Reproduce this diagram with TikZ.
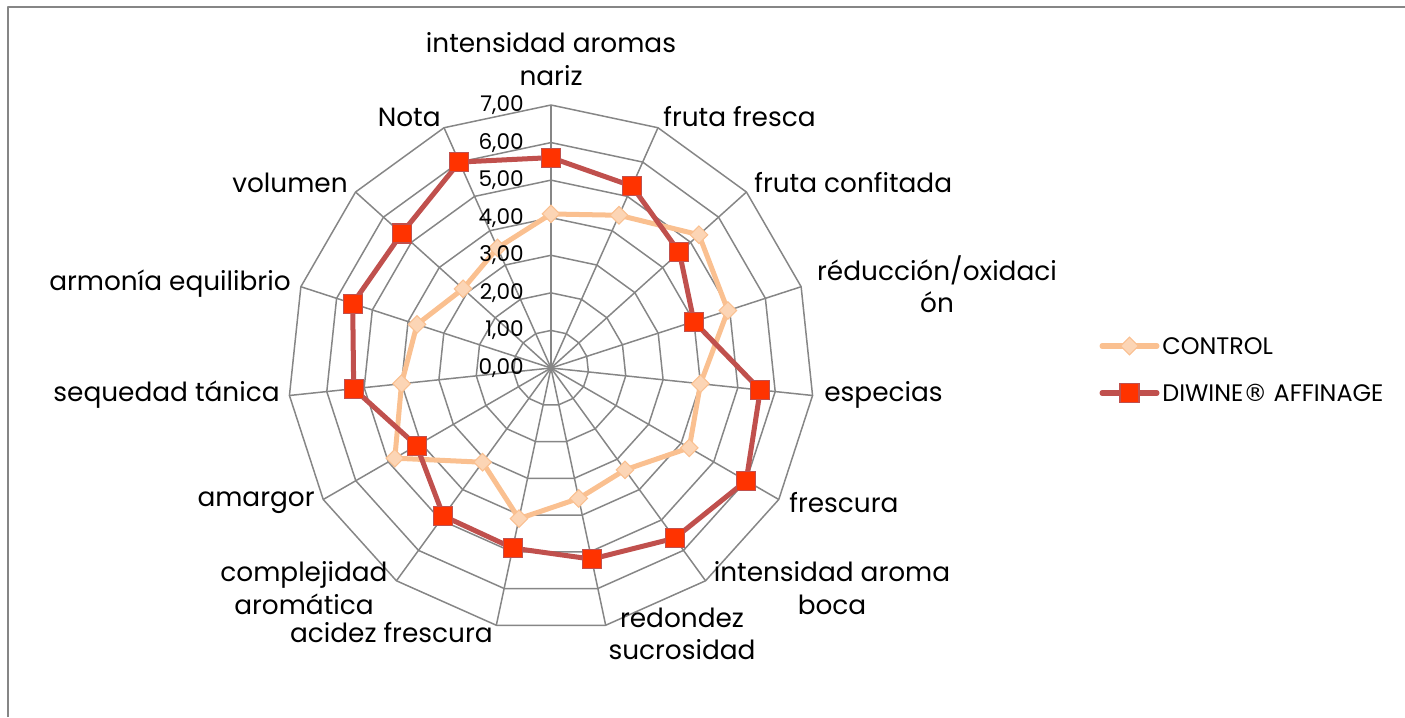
\documentclass[tikz,border=0pt]{standalone}
\usepackage{fontspec}
\setmainfont{Poppins}
\newfontfamily\symfont{DejaVu Sans}
\usetikzlibrary{shapes.geometric, positioning, calc}
\definecolor{gridgray}{RGB}{134,134,134}
\definecolor{ctrlline}{RGB}{250,192,144}
\definecolor{ctrlfill}{RGB}{252,213,181}
\definecolor{diwline}{RGB}{192,80,77}
\definecolor{diwfill}{RGB}{255,51,0}
\tikzset{
    gridline/.style={
        draw=gridgray, line width=0.85pt, line join=round
    },
    catlabel/.style={
        font=\fontsize{15}{18.5}\selectfont, align=center, inner sep=0pt
    },
    vallabel/.style={
        font=\fontsize{12.3}{14}\selectfont, anchor=east, inner sep=0pt
    },
    legtext/.style={
        font=\fontsize{13.6}{16}\selectfont, anchor=west, inner sep=0pt
    }
}

\begin{document}
\begin{tikzpicture}[
        x=0.02cm, y=0.02cm,
        % --- STYLE ---
        ctrlpath/.style={draw=ctrlline, line width=2.85pt, line join=round, line cap=round},
        diwpath/.style={draw=diwline, line width=2.85pt, line join=round, line cap=round},
        ctrlmark/.style={diamond, draw=ctrlline, fill=ctrlfill, line width=0.6pt, minimum size=0.36cm, inner sep=0pt},
        diwmark/.style={rectangle, draw=diwline, fill=diwfill, line width=0.6pt, minimum size=0.38cm, inner sep=0pt}
    ]
        \useasboundingbox (-551,-349) rectangle (854,368);
        \def\u{37.571}

        % --- MARCO ---
        \draw[gridline] (-543,-349) -- (-543,361) -- (854,361);

        % --- REJILLA ---
        \coordinate (ctr) at (0,0);
        \foreach \k in {0,...,14} {
            \coordinate (v\k) at ({90-24*\k}:{7*\u});
            \draw[gridline] (ctr) -- (v\k);
        }
        \foreach \r in {1,...,7} {
            \draw[gridline] (90:{\r*\u}) \foreach \k in {1,...,14} { -- ({90-24*\k}:{\r*\u}) } -- cycle;
        }

        % --- SERIES ---
        \foreach \v [count=\k from 0] in {4.1,4.45,5.3,4.95,4.0,4.25,3.35,3.55,4.1,3.1,4.8,4.0,3.75,3.15,3.5}
            \coordinate (c\k) at ({90-24*\k}:{\v*\u});
        \foreach \v [count=\k from 0] in {5.6,5.3,4.6,4.0,5.6,6.0,5.6,5.2,4.9,4.87,4.13,5.28,5.55,5.35,6.0}
            \coordinate (d\k) at ({90-24*\k}:{\v*\u});

        \draw[ctrlpath] (c0) \foreach \k in {1,...,14} { -- (c\k) } -- cycle;
        \foreach \k in {0,...,14} \node[ctrlmark] (mc\k) at (c\k) {};
        \draw[diwpath] (d0) \foreach \k in {1,...,14} { -- (d\k) } -- cycle;
        \foreach \k in {0,...,14} \node[diwmark] (md\k) at (d\k) {};

        % --- ESCALA ---
        \foreach \r in {0,...,7}
            \node[vallabel] (val\r) at (-27,{\r*\u}) {\r,00};

        % --- ETIQUETAS ---
        \node[catlabel] (lab0) at (0,309) {intensidad aromas\\nariz};
        \node[catlabel, anchor=west] (lab1) at (112,251) {fruta fresca};
        \node[catlabel, anchor=west] (lab2) at (203,185) {fruta confitada};
        \node[catlabel] (lab3) at (386,84) {réducción/oxidaci\\ón};
        \node[catlabel, anchor=west] (lab4) at (273,-27) {especias};
        \node[catlabel, anchor=west] (lab5) at (238,-135) {frescura};
        \node[catlabel] (lab6) at (281,-220) {intensidad aroma\\boca};
        \node[catlabel] (lab7) at (131,-266) {redondez\\sucrosidad};
        \node[catlabel, anchor=east] (lab8) at (-58,-265) {acidez frescura};
        \node[catlabel] (lab9) at (-247,-220) {complejidad\\aromática};
        \node[catlabel, anchor=east] (lab10) at (-236,-135) {amargor};
        \node[catlabel, anchor=east] (lab11) at (-271,-27) {sequedad tánica};
        \node[catlabel, anchor=east] (lab12) at (-260,84) {armonía equilibrio};
        \node[catlabel, anchor=east] (lab13) at (-203,185) {volumen};
        \node[catlabel, anchor=east] (lab14) at (-110,251) {Nota};

        % --- LEYENDA ---
        \coordinate (lcA) at (551,22);
        \coordinate (lcB) at (606,22);
        \draw[ctrlpath] (lcA) -- (lcB);
        \node[ctrlmark] (lcM) at ($(lcA)!0.5!(lcB)$) {};
        \node[legtext] (lcT) at (611,22) {CONTROL};
        \coordinate (ldA) at (551,-25);
        \coordinate (ldB) at (606,-25);
        \draw[diwpath] (ldA) -- (ldB);
        \node[diwmark] (ldM) at ($(ldA)!0.5!(ldB)$) {};
        \node[legtext] (ldT) at (611,-25) {DIWINE{\symfont ®} AFFINAGE};
\end{tikzpicture}
\end{document}
